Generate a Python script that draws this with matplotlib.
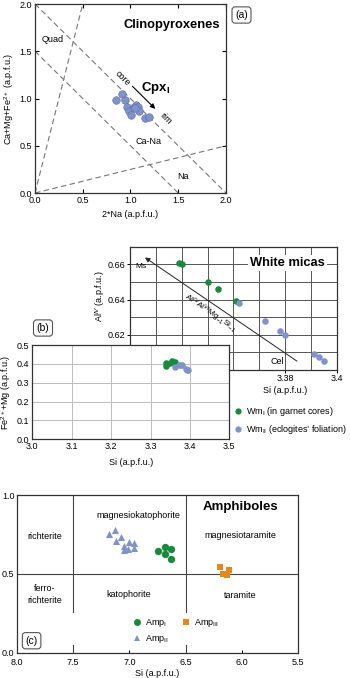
import matplotlib
matplotlib.use("Agg")
import matplotlib.pyplot as plt
from matplotlib.lines import Line2D

plt.rcParams['font.family'] = ['Liberation Sans', 'DejaVu Sans']
plt.rcParams['mathtext.fontset'] = 'custom'
plt.rcParams['mathtext.rm'] = 'Liberation Sans'
plt.rcParams['mathtext.it'] = 'Liberation Sans:italic'
plt.rcParams['mathtext.bf'] = 'Liberation Sans:bold'
plt.rcParams['font.size'] = 6.5
plt.rcParams['axes.linewidth'] = 0.9
plt.rcParams['axes.edgecolor'] = '#333333'

BLUE = '#7f93c9'
BLUE_EDGE = '#5d70a8'
GREEN = '#178a3c'
ORANGE = '#e8861e'

# (a) clinopyroxene Q-J diagram
cpx_j = [0.845, 0.907, 0.941, 0.959, 0.983, 1.010, 1.034, 1.059, 1.079, 1.093, 1.155, 1.197, 1.050]
cpx_q = [0.979, 1.049, 0.986, 0.915, 0.870, 0.827, 0.915, 0.933, 0.915, 0.873, 0.792, 0.803, 0.900]
# Morimoto classification boundaries (x pair, y pair)
qj_lines = [([0, 2], [2, 0]), ([0, 1.5], [1.5, 0]), ([0, 0.5], [0, 2]), ([0, 2], [0, 0.5])]

# (b) white micas, Al(IV) vs Si
wm1_si = [3.339, 3.340, 3.350, 3.354, 3.361]
wm1_aliv = [0.661, 0.660, 0.650, 0.646, 0.639]
wm2_si = [3.362, 3.372, 3.378, 3.380, 3.391, 3.393, 3.395]
wm2_aliv = [0.638, 0.628, 0.622, 0.620, 0.609, 0.607, 0.605]

# (b) Fe2+ + Mg vs Si
wm1_femg = [0.403, 0.390, 0.406, 0.414, 0.411]
wm2_femg = [0.385, 0.396, 0.396, 0.394, 0.372, 0.370, 0.369]

# (c) amphiboles
amp1_si = [6.742, 6.683, 6.680, 6.627, 6.627]
amp1_y = [0.645, 0.672, 0.626, 0.656, 0.596]
amp2_si = [7.18, 7.13, 7.12, 7.07, 7.05, 7.05, 7.01, 7.00, 6.96, 6.96]
amp2_y = [0.75, 0.775, 0.71, 0.736, 0.678, 0.651, 0.658, 0.704, 0.694, 0.662]
amp3_si = [6.194, 6.171, 6.135, 6.115]
amp3_y = [0.541, 0.499, 0.491, 0.522]

fig = plt.figure(figsize=(3.5, 6.78), dpi=100)

# ---------- (a) ----------
ax_a = fig.add_axes([0.1, 0.7153, 0.5457, 0.2788])
for xs, ys in qj_lines:
    ax_a.plot(xs, ys, color='#777777', lw=0.8, dashes=(5, 3))
ax_a.scatter(cpx_j, cpx_q, s=30, color=BLUE, edgecolor=BLUE_EDGE, lw=0.4, zorder=3)
ax_a.annotate('', xy=(1.28, 0.87), xytext=(1.0, 1.15),
              arrowprops=dict(arrowstyle='-|>', color='k', lw=0.8, mutation_scale=7))
ax_a.text(0.914, 1.215, 'core', rotation=-45, transform_rotates_text=True,
          ha='center', va='center')
ax_a.text(1.372, 0.788, 'rim', rotation=-45, transform_rotates_text=True,
          ha='center', va='center')
ax_a.text(0.07, 1.62, 'Quad', ha='left', va='center')
ax_a.text(1.19, 0.55, 'Ca-Na', ha='center', va='center')
ax_a.text(1.55, 0.18, 'Na', ha='center', va='center')
ax_a.text(1.43, 1.78, 'Clinopyroxenes', ha='center', va='center', fontsize=9.3, fontweight='bold')
ax_a.text(1.26, 1.11, r'Cpx$_\mathbf{I}$', ha='center', va='center', fontsize=9.5, fontweight='bold')
ax_a.set_xlim(0, 2)
ax_a.set_ylim(0, 2)
ax_a.set_xticks([0, 0.5, 1.0, 1.5, 2.0])
ax_a.set_yticks([0, 0.5, 1.0, 1.5, 2.0])
ax_a.tick_params(direction='in', length=3, width=0.8, top=True, right=True, pad=2)
ax_a.set_xlabel('2*Na (a.p.f.u.)', labelpad=4)
ax_a.set_ylabel(r'Ca+Mg+Fe$^{2+}$ (a.p.f.u.)', labelpad=3)

# ---------- (b) white micas inset ----------
ax_m = fig.add_axes([0.3714, 0.455, 0.5914, 0.1807])
ax_m.set_xlim(3.32, 3.40)
ax_m.set_ylim(0.60, 0.67)
ax_m.set_xticks([3.33, 3.34, 3.35, 3.36, 3.37, 3.39], minor=True)
ax_m.set_xticks([3.38, 3.40])
ax_m.set_xticklabels(['3.38', '3.4'])
ax_m.set_yticks([0.61, 0.63, 0.65], minor=True)
ax_m.set_yticks([0.62, 0.64, 0.66])
ax_m.grid(True, which='both', color='#555555', lw=0.7)
ax_m.tick_params(which='both', direction='out', length=2, width=0.7, pad=1.5)
ax_m.tick_params(which='minor', length=0)
ax_m.scatter(wm1_si, wm1_aliv, s=22, color=GREEN, lw=0, zorder=3)
ax_m.scatter(wm2_si, wm2_aliv, s=22, color=BLUE, lw=0, zorder=3)
ax_m.annotate('', xy=(3.3249, 0.6649), xytext=(3.3854, 0.6039),
              arrowprops=dict(arrowstyle='-|>', color='#222222', lw=0.7, mutation_scale=7))
ax_m.text(3.3242, 0.6586, 'Ms', ha='center', va='center', fontsize=6)
ax_m.text(3.3769, 0.6043, 'Cel', ha='center', va='center', fontsize=6.5)
ax_m.text(3.351, 0.632, r'Al$^{IV}$Al$^{VI}$Mg$_{-1}$Si$_{-1}$', rotation=-45,
          transform_rotates_text=True, ha='center', va='center', fontsize=6)
ax_m.text(3.3808, 0.661, 'White micas', ha='center', va='center', fontsize=9.3, fontweight='bold',
          bbox=dict(fc='white', ec='none', pad=1.5), zorder=4)
ax_m.set_xlabel('Si (a.p.f.u.)')
ax_m.xaxis.set_label_coords(0.75, -0.135)
ax_m.set_ylabel(r'Al$^{IV}$ (a.p.f.u.)')
ax_m.yaxis.set_label_coords(-0.113, 0.6)

# ---------- (b) Fe+Mg vs Si ----------
ax_b = fig.add_axes([0.0923, 0.352, 0.5629, 0.1391])
ax_b.set_facecolor('white')
ax_b.set_xlim(3.0, 3.5)
ax_b.set_ylim(0.0, 0.5)
ax_b.set_xticks([3.0, 3.1, 3.2, 3.3, 3.4, 3.5])
ax_b.set_yticks([0.0, 0.1, 0.2, 0.3, 0.4, 0.5])
ax_b.grid(True, color='#bbbbbb', lw=0.7)
ax_b.set_axisbelow(True)
ax_b.tick_params(direction='in', length=0, pad=2)
ax_b.scatter(wm1_si, wm1_femg, s=22, color=GREEN, lw=0, zorder=3)
ax_b.scatter(wm2_si, wm2_femg, s=22, color=BLUE, lw=0, zorder=3)
ax_b.set_xlabel('Si (a.p.f.u.)', labelpad=5)
ax_b.set_ylabel(r'Fe$^{2+}$+Mg (a.p.f.u.)', labelpad=3)

wm_handles = [
    Line2D([], [], marker='o', ls='none', color=GREEN, markersize=4.5, mew=0),
    Line2D([], [], marker='o', ls='none', color=BLUE, markersize=4.5, mew=0),
]
fig.legend(wm_handles, [r'Wm$_\mathrm{I}$ (in garnet cores)', r'Wm$_\mathrm{II}$ (eclogites’ foliation)'],
           loc='upper left', bbox_to_anchor=(233.5 / 350, 1 - 405 / 678), frameon=False,
           fontsize=6.5, handlelength=1, handletextpad=0.4, labelspacing=0.6,
           borderpad=0, borderaxespad=0)

# ---------- (c) amphiboles ----------
ax_c = fig.add_axes([0.0477, 0.0373, 0.8046, 0.2326])
ax_c.set_xlim(8.0, 5.5)
ax_c.set_ylim(0.0, 1.0)
ax_c.set_xticks([8.0, 7.5, 7.0, 6.5, 6.0, 5.5])
ax_c.set_yticks([0.0, 0.5, 1.0])
ax_c.tick_params(direction='in', length=2, width=0.7, pad=1.5)
ax_c.tick_params(axis='x', pad=3.5)
ax_c.axhline(0.5, color='#444444', lw=0.8)
for xv in [7.5, 6.5]:
    ax_c.axvline(xv, ymin=0.26, ymax=1.0, color='#444444', lw=0.8)
    ax_c.axvline(xv, ymin=0.0, ymax=0.05, color='#444444', lw=0.8)
ax_c.scatter(amp1_si, amp1_y, s=28, marker='o', color=GREEN, lw=0, zorder=3)
ax_c.scatter(amp2_si, amp2_y, s=26, marker='^', color=BLUE, lw=0, zorder=3)
ax_c.scatter(amp3_si, amp3_y, s=22, marker='s', color=ORANGE, lw=0, zorder=3)
ax_c.text(7.75, 0.74, 'richterite', ha='center', va='center')
ax_c.text(7.75, 0.37, 'ferro-\nrichterite', ha='center', va='center', linespacing=1.4)
ax_c.text(6.92, 0.867, 'magnesiokatophorite', ha='center', va='center')
ax_c.text(7.01, 0.366, 'katophorite', ha='center', va='center')
ax_c.text(6.017, 0.746, 'magnesiotaramite', ha='center', va='center')
ax_c.text(6.017, 0.361, 'taramite', ha='center', va='center')
ax_c.text(6.01, 0.926, 'Amphiboles', ha='center', va='center', fontsize=9.5, fontweight='bold')
ax_c.text(0.053, 0.076, '(c)', transform=ax_c.transAxes, ha='center', va='center', fontsize=7.5,
          bbox=dict(boxstyle='round,pad=0.3', fc='white', ec='#555555', lw=0.8))
ax_c.set_xlabel('Si (a.p.f.u.)', labelpad=2)

amp_handles = [
    Line2D([], [], marker='o', ls='none', color=GREEN, markersize=5, mew=0),
    Line2D([], [], marker='^', ls='none', color=BLUE, markersize=5, mew=0),
    Line2D([], [], marker='s', ls='none', color=ORANGE, markersize=4.5, mew=0),
]
ax_c.legend(amp_handles, [r'Amp$_\mathrm{I}$', r'Amp$_\mathrm{II}$', r'Amp$_\mathrm{III}$'],
            ncol=2, loc='upper left', bbox_to_anchor=(132.8 / 350, 1 - 616 / 678),
            bbox_transform=fig.transFigure, frameon=False, fontsize=6.5,
            handlelength=1, handletextpad=0.4, labelspacing=0.35, columnspacing=1.4,
            borderpad=0, borderaxespad=0)

# panel tags
fig.text(241.5 / 350, 1 - 15 / 678, '(a)', ha='center', va='center', fontsize=7.5,
         bbox=dict(boxstyle='round,pad=0.3', fc='white', ec='#555555', lw=0.8))
fig.text(43 / 350, 1 - 328 / 678, '(b)', ha='center', va='center', fontsize=7.5,
         bbox=dict(boxstyle='round,pad=0.3', fc='white', ec='#555555', lw=0.8))

fig.savefig('out.png', dpi=100)
